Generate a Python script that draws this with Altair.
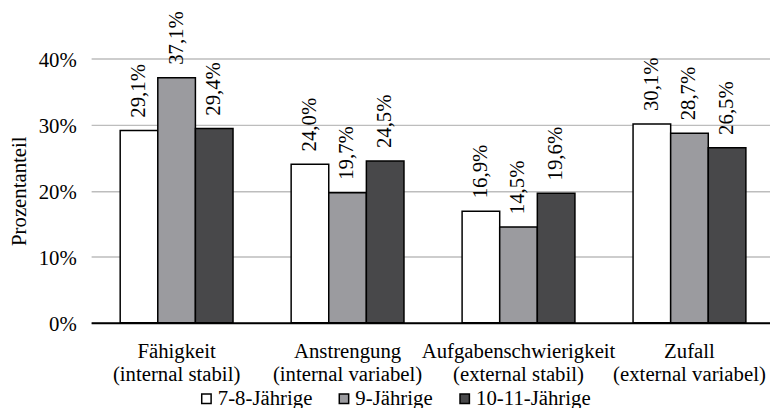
import altair as alt
import pandas as pd

categories = ["Fähigkeit", "Anstrengung", "Aufgabenschwierigkeit", "Zufall"]
subtitles = ["(internal stabil)", "(internal variabel)", "(external stabil)", "(external variabel)"]
groups = ["7-8-Jährige", "9-Jährige", "10-11-Jährige"]
values_7_8 = [29.1, 24.0, 16.9, 30.1]
values_9 = [37.1, 19.7, 14.5, 28.7]
values_10_11 = [29.4, 24.5, 19.6, 26.5]
y_ticks = [0, 10, 20, 30, 40]
colors = ["#ffffff", "#9b9b9f", "#48484a"]

FONT = "Liberation Serif, Times New Roman, Tinos, DejaVu Serif, serif"

rows = []
for g, vals in zip(groups, [values_7_8, values_9, values_10_11]):
    for c, s, v in zip(categories, subtitles, vals):
        rows.append({"kat": c + "|" + s, "gruppe": g, "wert": v})
df = pd.DataFrame(rows)
cat_order = [c + "|" + s for c, s in zip(categories, subtitles)]

x_enc = alt.X(
    "kat:N",
    sort=cat_order,
    scale=alt.Scale(range=[0, 691], paddingInner=0.34, paddingOuter=0.17),
    axis=alt.Axis(
        title=None,
        labelExpr="split(datum.label, '|')",
        labelAngle=0,
        labelFont=FONT,
        labelFontSize=21,
        labelColor="black",
        labelLineHeight=23,
        labelPadding=18,
        labelLimit=0,
        ticks=False,
        tickSize=0,
        domain=True,
        domainColor="black",
        domainWidth=2,
        grid=False,
    ),
)
xoff_enc = alt.XOffset("gruppe:N", sort=groups, scale=alt.Scale(paddingInner=0, paddingOuter=0))
y_enc = alt.Y(
    "wert:Q",
    scale=alt.Scale(domain=[0, 40]),
    axis=alt.Axis(
        title="Prozentanteil",
        titleFont=FONT,
        titleFontSize=21,
        titleFontWeight="normal",
        titleColor="black",
        titlePadding=9,
        values=y_ticks,
        labelExpr="datum.value + '%'",
        labelFont=FONT,
        labelFontSize=21,
        labelColor="black",
        labelPadding=15,
        labelOffset=2,
        ticks=False,
        tickSize=0,
        domain=False,
        grid=True,
        gridColor="#bdbdbd",
        gridWidth=1.5,
    ),
)

base = alt.Chart(df).encode(x=x_enc, xOffset=xoff_enc, y=y_enc)

bars = base.mark_bar(stroke="black", strokeWidth=1.5).encode(
    color=alt.Color(
        "gruppe:N",
        sort=groups,
        scale=alt.Scale(domain=groups, range=colors),
        title=None,
        legend=alt.Legend(
            orient="none",
            legendX=106,
            legendY=333,
            direction="horizontal",
            symbolType="square",
            symbolSize=90,
            symbolStrokeColor="black",
            symbolStrokeWidth=1.5,
            symbolOpacity=1,
            labelFont=FONT,
            labelFontSize=21,
            labelColor="black",
            labelOffset=1,
            labelLimit=0,
            columnPadding=21,
            padding=0,
        ),
    )
)

labels = base.mark_text(
    angle=270, align="left", baseline="middle", dx=13, font=FONT, fontSize=21, color="black"
).transform_calculate(
    lbl="replace(format(datum.wert, '.1f'), '.', ',') + '%'"
).encode(text="lbl:N")

chart = (
    alt.layer(bars, labels)
    .properties(
        width=686,
        height=267,
        autosize=alt.AutoSizeParams(type="none"),
        padding={"left": 84, "top": 49, "right": 0, "bottom": 84},
        background="white",
    )
    .configure_view(stroke=None)
)

chart.save("out.html", embed_options={"renderer": "svg", "actions": False})
